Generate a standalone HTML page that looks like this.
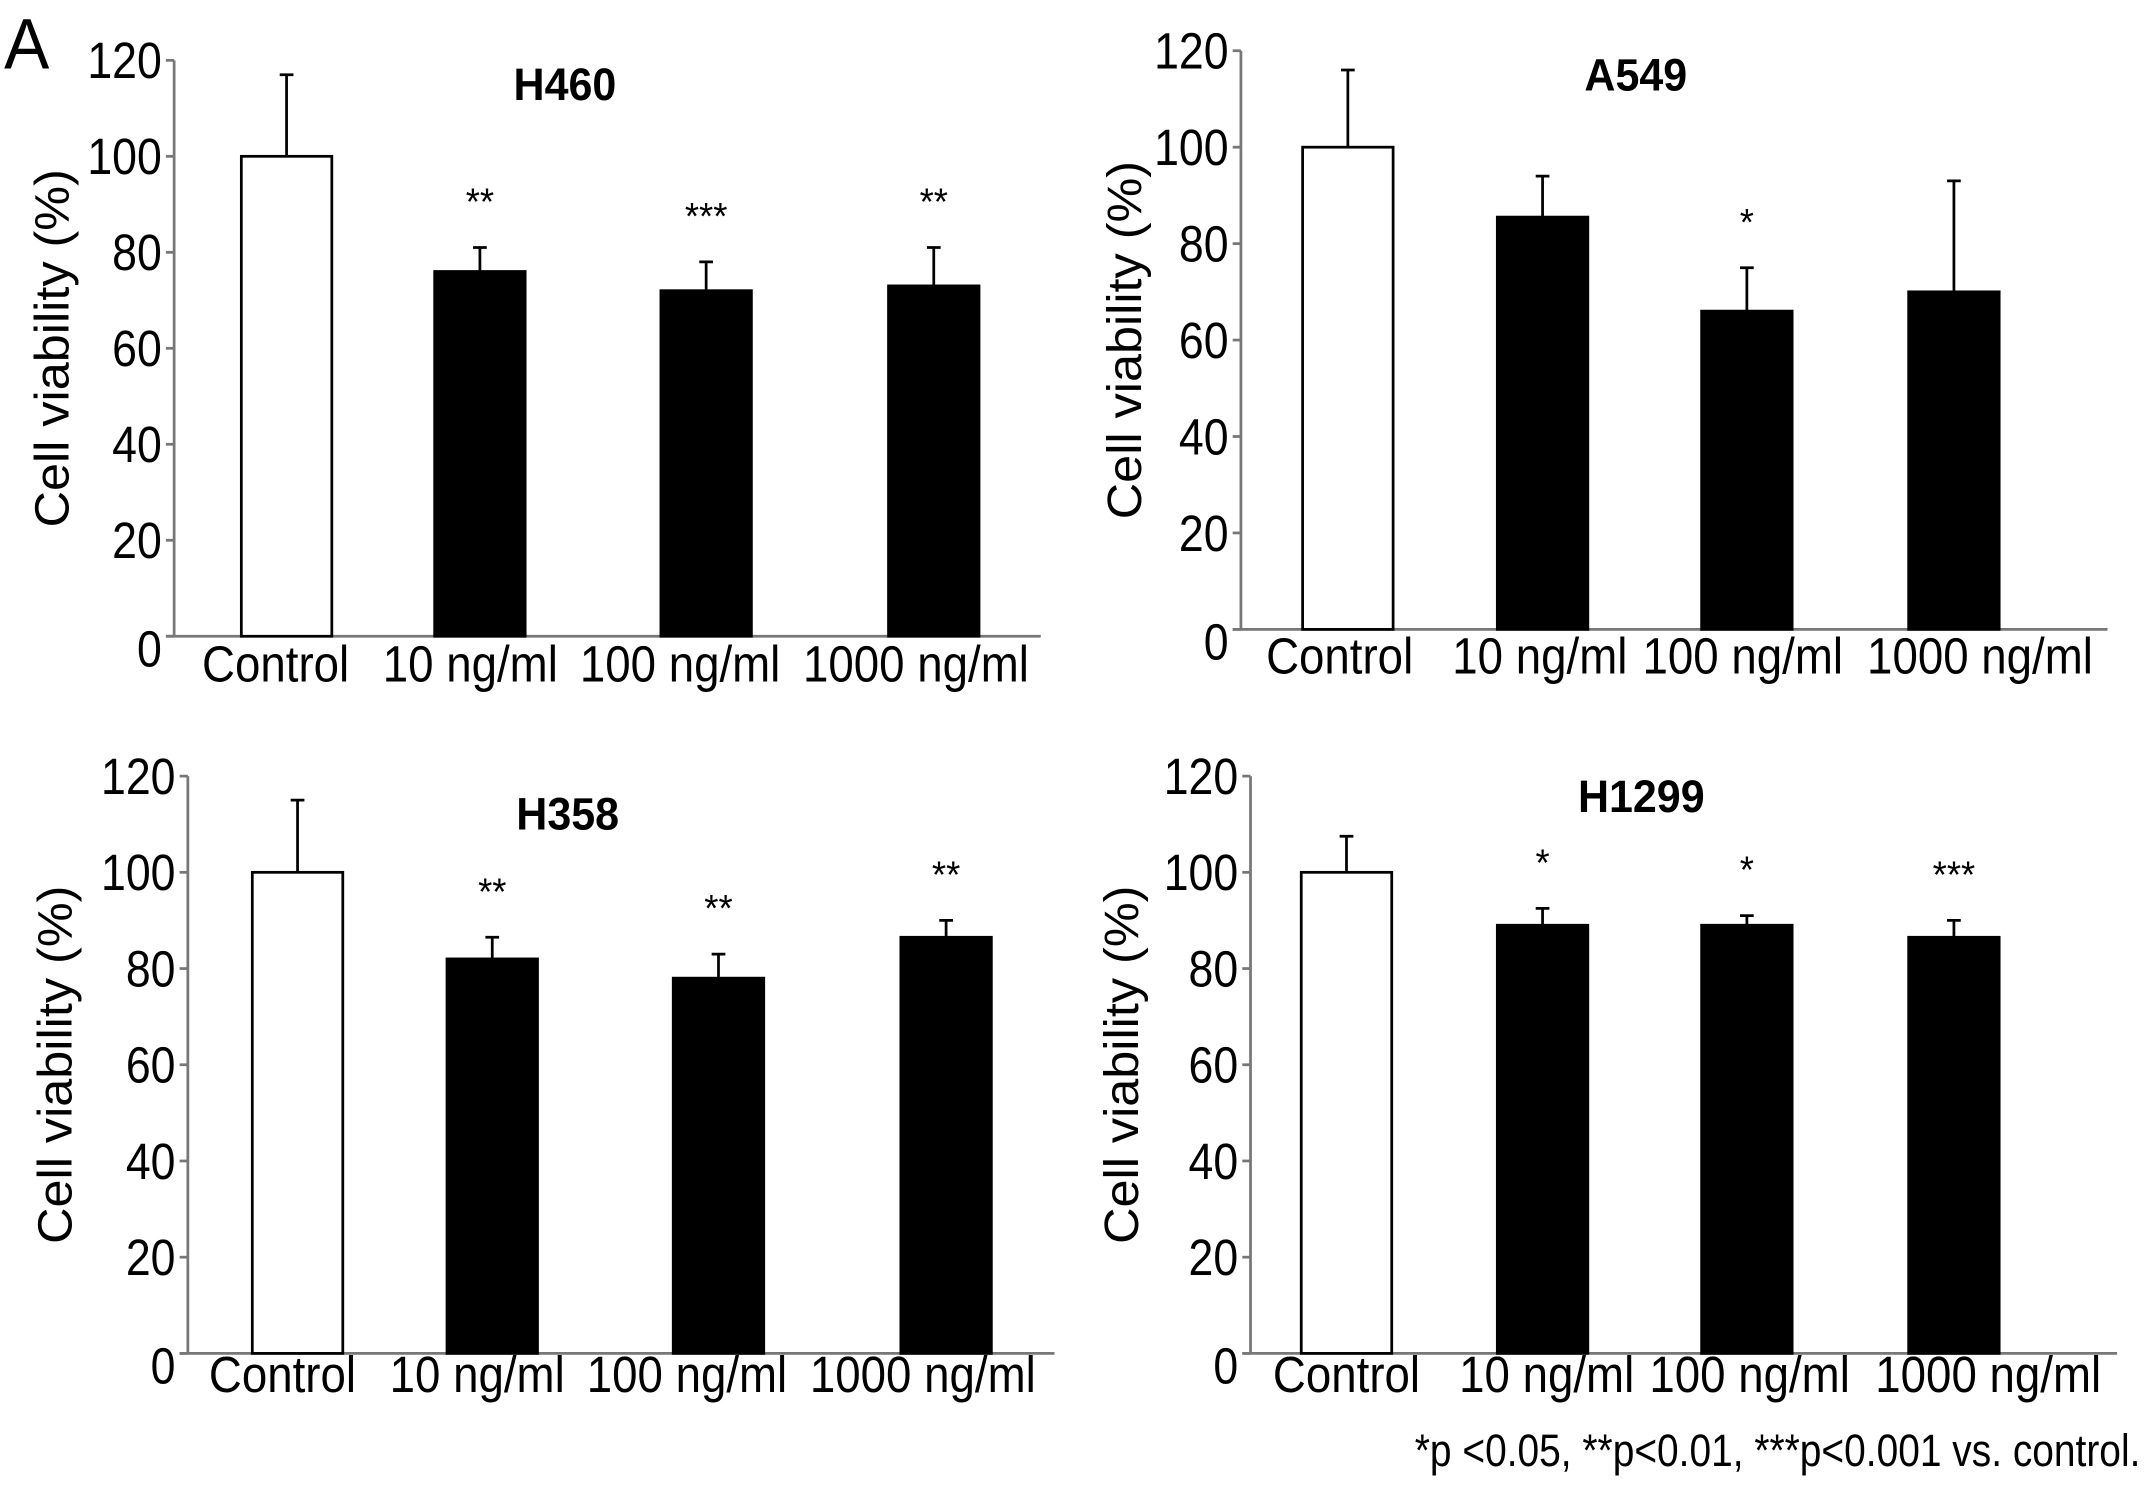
<!DOCTYPE html>
<html><head><meta charset="utf-8"><style>
html,body{margin:0;padding:0;background:#fff}
svg{display:block}
text{font-family:"Liberation Sans",Arial,sans-serif;fill:#000}
</style></head><body>
<svg id="fig" width="2150" height="1496" viewBox="0 0 1568 1091" preserveAspectRatio="none" xmlns="http://www.w3.org/2000/svg">
<text x="0" y="0" font-size="52" transform="translate(3 50) scale(0.95 1)">A</text>
<text x="0" y="0" font-size="33" text-anchor="end" transform="translate(1561 1069) scale(0.86 1)">*p &lt;0.05, **p&lt;0.01, ***p&lt;0.001 vs. control.</text>
</svg>
<script>
const categories = ["Control","10 ng/ml","100 ng/ml","1000 ng/ml"];
const titles = ["H460","A549","H358","H1299"];
const h460Values = [100, 76, 72, 73];
const h460Errors = [117, 81, 78, 81];
const h460Stars = ["", "**", "***", "**"];
const a549Values = [100, 85.5, 66, 70];
const a549Errors = [116, 94, 75, 93];
const a549Stars = ["", "", "*", ""];
const h358Values = [100, 82, 78, 86.5];
const h358Errors = [115, 86.5, 83, 90];
const h358Stars = ["", "**", "**", "**"];
const h1299Values = [100, 89, 89, 86.5];
const h1299Errors = [107.5, 92.5, 91, 90];
const h1299Stars = ["", "*", "*", "***"];
const yTicks = [0, 20, 40, 60, 80, 100, 120];

const NS = "http://www.w3.org/2000/svg";
const svg = document.getElementById("fig");
function mk(tag, attrs, parent){
  const e = document.createElementNS(NS, tag);
  for (const k in attrs) e.setAttribute(k, attrs[k]);
  (parent||svg).appendChild(e);
  return e;
}
function txt(x, y, size, anchor, sx, parent, extra){
  return mk("text",{x:0,y:0,"font-size":size,"text-anchor":anchor,transform:`translate(${x} ${y}) ${extra||""} scale(${sx} 1)`},parent);
}
const panels = [
  {v:h460Values,e:h460Errors,s:h460Stars,ax:127,y0:464,y1:44,bars:[176,317,482,648],xl:[201,343,496,668],ly:497,tx:412,ty:73,ylx:50,name:"h460"},
  {v:a549Values,e:a549Errors,s:a549Stars,ax:905,y0:459,y1:37,bars:[950,1092,1241,1392],xl:[977,1123,1271,1444],ly:491,tx:1193,ty:66,ylx:832,name:"a549"},
  {v:h358Values,e:h358Errors,s:h358Stars,ax:137,y0:987,y1:566,bars:[184,326,491,657],xl:[206,348,501,673],ly:1015,tx:414,ty:605,ylx:52,name:"h358"},
  {v:h1299Values,e:h1299Errors,s:h1299Stars,ax:912,y0:987,y1:566,bars:[949,1092,1241,1392],xl:[982,1128,1276,1450],ly:1015,tx:1197,ty:592,ylx:830,name:"h1299"}
];
panels.forEach((p, pi) => {
  const g = mk("g", {});
  
  
  const y = v => p.y0 - (v/120)*(p.y0 - p.y1);
  const bw = 66;
  const ya = mk("line",{x1:p.ax,y1:p.y1,x2:p.ax,y2:p.y0,stroke:"#777","stroke-width":2},g);
  
  
  const xa = mk("line",{x1:p.ax-6,y1:p.y0,x2:p.ax+632,y2:p.y0,stroke:"#777","stroke-width":2},g);
  
  
  yTicks.forEach(t => {
    const tk = mk("line",{x1:p.ax-6,y1:y(t),x2:p.ax,y2:y(t),stroke:"#777","stroke-width":2},g);
    
    
    const tl = txt(p.ax-9, y(t) + (t===0?22:13), 37, "end", 0.88, g);
    tl.textContent = t;
    
    
  });
  const cy = (p.y0+p.y1)/2;
  const yl = txt(p.ylx, cy, 35, "middle", 1.05, g, "rotate(-90)");
  yl.textContent = "Cell viability (%)";
  
  
  const tt = txt(p.tx, p.ty, 33, "middle", 0.95, g);
  tt.setAttribute("font-weight","bold");
  tt.textContent = titles[pi];
  
  
  categories.forEach((c, i) => {
    const bx = p.bars[i];
    const cx = bx + bw/2;
    const eb = mk("path",{d:`M${cx} ${y(p.v[i])} V${y(p.e[i])} M${cx-5} ${y(p.e[i])} H${cx+5}`,stroke:"#000","stroke-width":2,fill:"none"},g);
    
    
    const r = mk("rect",{x:bx,y:y(p.v[i]),width:bw,height:p.y0-y(p.v[i]),fill:i===0?"#fff":"#000",stroke:"#000","stroke-width":2},g);
    
    
    if (p.s[i]) {
      const st = txt(cx, y(p.e[i])-24, 28, "middle", 0.95, g);
      st.textContent = p.s[i];
      
      
    }
    const xl = txt(p.xl[i], p.ly, 37, "middle", 0.9, g);
    xl.textContent = c;
    
    
  });
});
</script>
</body></html>
